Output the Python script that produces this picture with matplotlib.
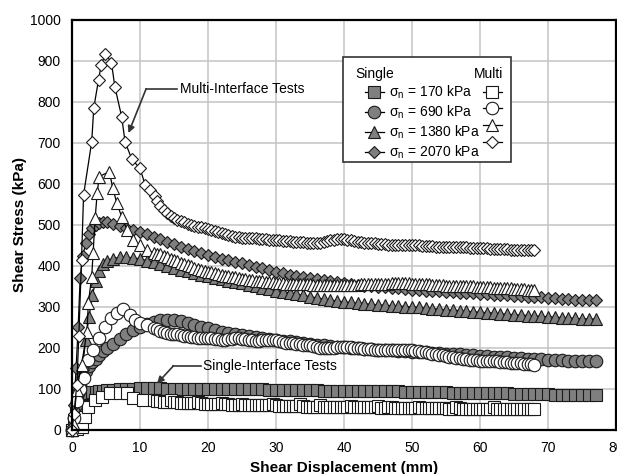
import matplotlib
matplotlib.use("Agg")
import matplotlib.pyplot as plt
from matplotlib.patches import Rectangle

plt.rcParams['font.family'] = ['Liberation Sans', 'DejaVu Sans']
plt.rcParams['mathtext.default'] = 'regular'

# ---- data (shear displacement mm, shear stress kPa) ----
# single-interface tests: own points on the rise, common sampling afterwards
single_rise_x = [0, 0.3, 0.6, 0.9, 1.2, 1.6, 2.0, 2.5, 3.0, 3.5, 4.0, 4.6, 5.2]
single_tail_x = [6, 7, 8, 9, 10, 11, 12, 13, 14, 15, 16, 17, 18, 19, 20, 21, 22, 23, 24, 25,
                 26, 27, 28, 29, 30, 31, 32, 33, 34, 35, 36, 37, 38, 39, 40, 41, 42, 43, 44, 45,
                 46, 47, 48, 49, 50, 51, 52, 53, 54, 55, 56, 57, 58, 59, 60, 61, 62, 63, 64, 65,
                 66, 67, 68, 69, 70, 71, 72, 73, 74, 75, 76, 77]

single_170 = [0, 25, 50, 70, 80, 86, 88, 90, 92, 93, 95, 96, 97,
              98, 99, 100, 101, 102, 102, 102, 102, 101, 101, 101, 101, 101, 100, 100, 100, 100, 100, 99, 99,
              99, 99, 99, 98, 98, 98, 98, 97, 97, 97, 97, 96, 96, 96, 96, 95, 95, 95, 95, 94,
              94, 94, 94, 93, 93, 93, 93, 92, 92, 92, 91, 91, 91, 90, 90, 90, 89, 89, 89, 88,
              88, 88, 87, 87, 87, 86, 86, 86, 85, 85, 85, 84]
single_690 = [0, 30, 60, 90, 110, 130, 143, 155, 165, 174, 182, 192, 200,
              210, 222, 234, 244, 252, 259, 264, 267, 269, 268, 265, 261, 257, 252, 248, 244, 240, 237,
              234, 231, 228, 226, 224, 222, 220, 218, 216, 214, 212, 210, 208, 206, 205, 203, 202, 200,
              199, 198, 197, 196, 195, 194, 193, 192, 191, 190, 189, 188, 187, 186, 185, 184, 183, 182,
              181, 180, 179, 178, 177, 176, 175, 174, 173, 172, 171, 170, 170, 169, 168, 168, 167, 167]
single_1380 = [0, 20, 50, 80, 115, 160, 220, 275, 330, 362, 388, 405, 413,
               418, 421, 421, 420, 417, 413, 409, 404, 400, 395, 391, 387, 383, 379, 375, 371, 368, 364,
               361, 358, 354, 350, 347, 343, 340, 337, 334, 331, 328, 325, 322, 319, 317, 314, 312, 311,
               309, 308, 306, 305, 304, 303, 302, 301, 300, 299, 297, 296, 294, 293, 292, 291, 289, 288,
               287, 286, 285, 283, 282, 281, 280, 279, 278, 277, 276, 275, 274, 273, 272, 271, 271, 270]
single_2070 = [0, 60, 150, 250, 370, 425, 455, 478, 492, 500, 505, 508, 506,
               503, 498, 493, 488, 483, 477, 471, 465, 459, 453, 447, 442, 437, 432, 427, 422, 418, 414,
               410, 406, 402, 398, 394, 390, 386, 383, 379, 376, 373, 370, 367, 365, 362, 360, 358, 356,
               354, 352, 351, 349, 348, 346, 345, 344, 342, 341, 340, 339, 338, 337, 336, 335, 334, 333,
               332, 331, 330, 329, 328, 327, 326, 325, 324, 323, 322, 321, 320, 319, 318, 318, 317, 317]

# multi-interface tests: own points up to the peak region, common (denser) sampling afterwards
multi_tail_x = [12.5, 13, 13.5, 14, 14.5, 15, 15.5, 16, 16.5, 17,
                17.5, 18, 18.5, 19, 19.5, 20, 20.5, 21, 21.5, 22,
                22.5, 23, 23.5, 24, 24.5, 25, 25.5, 26, 26.5, 27,
                27.5, 28, 28.5, 29, 29.5, 30, 30.5, 31, 31.5, 32,
                32.5, 33, 33.5, 34, 34.5, 35, 35.5, 36, 36.5, 37,
                37.5, 38, 38.5, 39, 39.5, 40, 40.5, 41, 41.5, 42,
                42.5, 43, 43.5, 44, 44.5, 45, 45.5, 46, 46.5, 47,
                47.5, 48, 48.5, 49, 49.5, 50, 50.5, 51, 51.5, 52,
                52.5, 53, 53.5, 54, 54.5, 55, 55.5, 56, 56.5, 57,
                57.5, 58, 58.5, 59, 59.5, 60, 60.5, 61, 61.5, 62,
                62.5, 63, 63.5, 64, 64.5, 65, 65.5, 66, 66.5, 67,
                67.5, 68]

multi_170_x = [0, 0.7, 1.4, 1.9, 2.4, 3.4, 4.4, 5.6, 7.0, 8.1, 9.0, 10.5, 12.0]
multi_170 = [0, 2, 8, 32, 57, 73, 81, 89, 89, 89, 77, 73, 72,
             71, 70, 69, 68, 72, 67, 67, 66, 66, 66,
             65, 65, 68, 65, 64, 64, 63, 63, 62, 66,
             62, 62, 61, 61, 61, 64, 61, 61, 60, 60,
             61, 61, 60, 60, 63, 60, 59, 59, 59, 59,
             58, 58, 62, 58, 57, 57, 57, 57, 61, 57,
             56, 56, 56, 56, 56, 56, 55, 59, 56, 56,
             55, 55, 55, 55, 55, 58, 54, 54, 55, 55,
             54, 54, 54, 54, 54, 54, 53, 57, 54, 54,
             53, 53, 53, 53, 53, 53, 52, 52, 56, 53,
             52, 52, 52, 52, 52, 52, 51, 51, 51, 55,
             51, 51, 51, 51, 52, 52, 51, 51, 51, 51,
             51, 51]
multi_690_x = [0, 0.3, 0.7, 1.2, 1.7, 2.4, 3.1, 3.9, 4.9, 5.8, 6.6, 7.5, 8.5, 9.3, 10.0, 11.0, 12.0]
multi_690 = [0, 30, 70, 100, 126, 171, 195, 224, 252, 272, 285, 294, 280, 268, 260, 255, 248,
             245, 242, 239, 236, 235, 234, 233, 232, 230, 229,
             227, 226, 225, 225, 224, 224, 223, 222, 221, 220,
             220, 221, 222, 223, 223, 222, 221, 220, 219, 218,
             218, 219, 219, 220, 220, 219, 217, 215, 213, 212,
             211, 210, 209, 208, 208, 207, 205, 203, 201, 200,
             200, 201, 201, 202, 202, 203, 203, 202, 201, 200,
             199, 198, 197, 197, 196, 195, 195, 195, 195, 195,
             195, 195, 195, 195, 195, 194, 193, 192, 190, 189,
             187, 186, 184, 183, 182, 181, 179, 178, 176, 175,
             173, 172, 171, 170, 170, 169, 168, 168, 168, 167,
             167, 166, 166, 165, 164, 163, 163, 162, 161, 160,
             160, 159]
multi_1380_x = [0, 0.2, 0.7, 1.4, 2.2, 2.4, 2.9, 3.1, 3.4, 3.7, 4.0, 5.5, 6.0, 6.6, 7.3, 8.1,
                9.0, 10.0, 11.0, 12.0]
multi_1380 = [0, 16, 98, 158, 240, 309, 374, 431, 516, 577, 618, 630, 589, 553, 520, 488,
              463, 450, 440, 432,
              430, 428, 425, 422, 418, 415, 411, 408, 405, 402,
              399, 396, 393, 391, 388, 386, 384, 382, 380, 378,
              376, 375, 373, 372, 370, 369, 367, 366, 365, 364,
              363, 362, 361, 360, 360, 359, 358, 358, 357, 357,
              356, 356, 355, 355, 355, 355, 354, 354, 354, 354,
              354, 354, 354, 354, 354, 354, 354, 354, 354, 354,
              355, 355, 355, 356, 356, 357, 357, 357, 357, 358,
              358, 358, 358, 358, 358, 357, 357, 356, 356, 355,
              355, 354, 354, 353, 353, 352, 352, 352, 351, 351,
              351, 350, 350, 350, 349, 349, 349, 348, 348, 347,
              347, 346, 346, 345, 345, 344, 344, 343, 343, 342,
              342, 341]
multi_2070_x = [0, 0.3, 0.7, 1.0, 1.4, 1.7, 2.9, 3.2, 3.9, 4.3, 4.9, 5.8, 6.3, 7.3, 7.8, 8.8,
                10.0, 10.75, 11.5, 12.2]
multi_2070 = [0, 40, 110, 228, 415, 573, 703, 785, 854, 890, 918, 896, 837, 764, 703, 660,
              638, 598, 585, 570,
              558, 545, 536, 528, 522, 517, 513, 510, 506, 503,
              500, 498, 496, 494, 492, 490, 487, 485, 482, 480,
              477, 475, 473, 471, 470, 469, 469, 468, 467, 467,
              466, 466, 465, 464, 463, 462, 462, 461, 460, 460,
              459, 459, 458, 458, 457, 457, 456, 456, 457, 458,
              460, 462, 464, 465, 466, 465, 463, 462, 460, 459,
              458, 457, 456, 455, 455, 454, 453, 453, 452, 452,
              451, 451, 451, 451, 450, 450, 450, 450, 449, 449,
              448, 448, 447, 447, 447, 447, 446, 446, 445, 445,
              445, 445, 444, 444, 443, 443, 443, 443, 442, 442,
              441, 441, 441, 441, 440, 440, 440, 440, 439, 439,
              439, 438]

labels = ['σ$_n$ = 170 kPa', 'σ$_n$ = 690 kPa', 'σ$_n$ = 1380 kPa', 'σ$_n$ = 2070 kPa']

fig, ax = plt.subplots(figsize=(6.17, 4.74), dpi=100)
fig.subplots_adjust(left=0.1167, right=0.9984, top=0.958, bottom=0.093)

gray = '#7f7f7f'
edge = '#1a1a1a'
common = dict(color='black', lw=0.9, mec=edge, mew=0.8, clip_on=False)

singles = []
singles += ax.plot(single_rise_x + single_tail_x, single_170, marker='s', ms=8.2, mfc=gray, **common)
singles += ax.plot(single_rise_x + single_tail_x, single_690, marker='o', ms=9, mfc=gray, **common)
singles += ax.plot(single_rise_x + single_tail_x, single_1380, marker='^', ms=9, mfc=gray, **common)
singles += ax.plot(single_rise_x + single_tail_x, single_2070, marker='D', ms=6, mfc=gray, **common)

multis = []
multis += ax.plot(multi_170_x + multi_tail_x, multi_170, marker='s', ms=8.2, mfc='white', **common)
multis += ax.plot(multi_690_x + multi_tail_x, multi_690, marker='o', ms=9, mfc='white', **common)
multis += ax.plot(multi_1380_x + multi_tail_x, multi_1380, marker='^', ms=9, mfc='white', **common)
multis += ax.plot(multi_2070_x + multi_tail_x, multi_2070, marker='D', ms=6, mfc='white', **common)

ax.set_xlim(0, 80)
ax.set_ylim(0, 1000)
ax.set_xticks(range(0, 81, 10))
ax.set_yticks(range(0, 1001, 100))
ax.grid(True, color='#c4c4c4', lw=1.1)
ax.set_axisbelow(True)
ax.tick_params(length=0, pad=8, labelsize=10)
for s in ax.spines.values():
    s.set_linewidth(1.6)
    s.set_zorder(5)

ax.set_xlabel('Shear Displacement (mm)', fontsize=11, fontweight='bold', labelpad=4)
ax.set_ylabel('Shear Stress (kPa)', fontsize=11, fontweight='bold', labelpad=2)

# annotations
arrow = dict(arrowstyle='-|>', color='#333333', lw=1.2, mutation_scale=10, shrinkA=0, shrinkB=0)
ax.plot([15.5, 10.9], [832, 832], color='#333333', lw=1.2)
ax.annotate('', xy=(8.3, 724), xytext=(10.9, 832), arrowprops=arrow)
ax.text(15.9, 832, 'Multi-Interface Tests', fontsize=10, va='center', ha='left')
ax.plot([18.9, 14.9], [156, 156], color='#333333', lw=1.2)
ax.annotate('', xy=(12.5, 113), xytext=(14.9, 156), arrowprops=arrow)
ax.text(19.3, 156, 'Single-Interface Tests', fontsize=10, va='center', ha='left')

# legend: frame drawn separately, entries from the plotted lines
ax.add_patch(Rectangle((0.498, 0.654), 0.309, 0.256, transform=ax.transAxes, facecolor='white',
                       edgecolor='#333333', lw=1.2, zorder=6))
leg = ax.legend(singles + multis, labels + [''] * 4, ncol=2, frameon=False,
                loc='upper left', bbox_to_anchor=(0.538, 0.845), borderpad=0, borderaxespad=0,
                fontsize=10, handlelength=1.4, handletextpad=0.35, columnspacing=0.2,
                labelspacing=0.2)
leg.set_zorder(7)
ax.text(0.520, 0.868, 'Single', transform=ax.transAxes, fontsize=10, ha='left', va='center', zorder=7)
ax.text(0.765, 0.868, 'Multi', transform=ax.transAxes, fontsize=10, ha='center', va='center', zorder=7)

fig.savefig('out.png', dpi=100)
